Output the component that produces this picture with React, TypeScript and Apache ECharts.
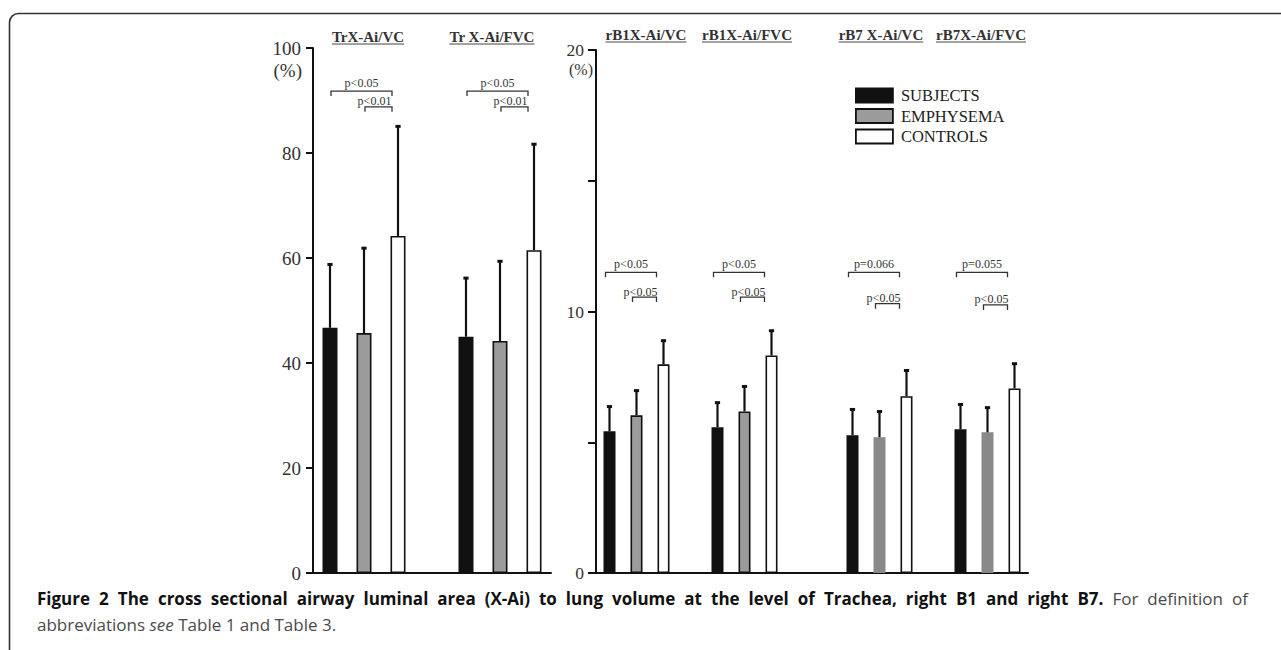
import React, { useEffect, useRef } from "react";
import * as echarts from "echarts";

// ---------- data ----------
const seriesNames = ["SUBJECTS", "EMPHYSEMA", "CONTROLS"];

const leftGroups = ["TrX-Ai/VC", "Tr X-Ai/FVC"];
const leftSubjects = [46.7, 45.0];
const leftSubjectsSD = [12.3, 11.4];
const leftEmphysema = [45.7, 44.2];
const leftEmphysemaSD = [16.4, 15.4];
const leftControls = [64.2, 61.5];
const leftControlsSD = [21.1, 20.4];

const rightGroups = ["rB1X-Ai/VC", "rB1X-Ai/FVC", "rB7 X-Ai/VC", "rB7X-Ai/FVC"];
const rightSubjects = [5.42, 5.57, 5.27, 5.5];
const rightSubjectsSD = [0.99, 0.99, 1.03, 0.99];
const rightEmphysema = [6.03, 6.18, 5.19, 5.38];
const rightEmphysemaSD = [0.99, 1.0, 1.03, 0.99];
const rightControls = [7.98, 8.32, 6.76, 7.06];
const rightControlsSD = [0.95, 0.99, 1.03, 0.99];

const leftTicks = { min: 0, max: 100, interval: 20 };
const rightTicks = { min: 0, max: 20, interval: 5, labelEvery: 10 };

// significance brackets: [group, fromSeries, toSeries, level, label]
const leftBrackets: [number, number, number, number, string][] = [
  [0, 0, 2, 91.8, "p<0.05"],
  [0, 1, 2, 88.8, "p<0.01"],
  [1, 0, 2, 91.8, "p<0.05"],
  [1, 1, 2, 88.8, "p<0.01"],
];
const rightBrackets: [number, number, number, number, string][] = [
  [0, 0, 2, 11.5, "p<0.05"],
  [0, 1, 2, 10.55, "p<0.05"],
  [1, 0, 2, 11.5, "p<0.05"],
  [1, 1, 2, 10.55, "p<0.05"],
  [2, 0, 2, 11.5, "p=0.066"],
  [2, 1, 2, 10.3, "p<0.05"],
  [3, 0, 2, 11.5, "p=0.055"],
  [3, 1, 2, 10.25, "p<0.05"],
];

const captionBold =
  "Figure 2 The cross sectional airway luminal area (X-Ai) to lung volume at the level of Trachea, right B1 and right B7.";
const captionRest1 = "For definition of";
const captionRest2a = "abbreviations ";
const captionItalic = "see";
const captionRest2b = " Table 1 and Table 3.";

// ---------- layout ----------
const SERIF = '"Liberation Serif", "Times New Roman", serif';
const SANS = '"Open Sans", "Noto Sans", sans-serif';
const LP = { left: 313, top: 48, width: 238, height: 525, slots: 7, barW: 15, groupSlots: [0, 4] };
const RP = { left: 596, top: 50, width: 432, height: 523, slots: 16, barW: 12, groupSlots: [0, 4, 9, 13] };
const leftTitleX = [368, 492];
const rightTitleX = [646, 747, 881, 981];
const GRAY = "#9b9b9b";
const GRAY_FLAT = "#898989";
const INK = "#111";
const CAP_SIZE = 17;
const CAP_LEFT = 37;
const CAP_RIGHT = 1248;

function measure(text: string, font: string): number {
  const c = document.createElement("canvas").getContext("2d");
  if (!c) return text.length * 8;
  c.font = font;
  return c.measureText(text).width;
}

function slotArray(values: number[], groupSlots: number[], offset: number, count: number, mapper?: (v: number, i: number) => any) {
  const arr: any[] = Array(count).fill(null);
  values.forEach((v, i) => {
    arr[groupSlots[i] + offset] = mapper ? mapper(v, i) : v;
  });
  return arr;
}

export default function App() {
  const ref = useRef<HTMLDivElement>(null);

  useEffect(() => {
    if (!ref.current) return;
    const chart = echarts.init(ref.current, undefined, { renderer: "svg" });

    const colors = [INK, GRAY, "#ffffff"];
    const barItem = (color: string) => ({ color, borderColor: INK, borderWidth: 1.6 });

    const leftMeans = [leftSubjects, leftEmphysema, leftControls];
    const leftSDs = [leftSubjectsSD, leftEmphysemaSD, leftControlsSD];
    const rightMeans = [rightSubjects, rightEmphysema, rightControls];
    const rightSDs = [rightSubjectsSD, rightEmphysemaSD, rightControlsSD];

    const series: any[] = [];
    seriesNames.forEach((name, s) => {
      series.push({
        name,
        type: "bar",
        xAxisIndex: 0,
        yAxisIndex: 0,
        barWidth: LP.barW,
        barGap: "-100%",
        itemStyle: barItem(colors[s]),
        data: slotArray(leftMeans[s], LP.groupSlots, s, LP.slots),
        z: 2,
      });
    });
    seriesNames.forEach((name, s) => {
      series.push({
        name,
        type: "bar",
        xAxisIndex: 1,
        yAxisIndex: 1,
        barWidth: RP.barW,
        barGap: "-100%",
        itemStyle: barItem(colors[s]),
        data: slotArray(rightMeans[s], RP.groupSlots, s, RP.slots, (v, i) =>
          s === 1 && i >= 2 ? { value: v, itemStyle: { color: GRAY_FLAT, borderWidth: 0 } } : v
        ),
        z: 2,
      });
    });

    const errData = (means: number[][], sds: number[][], groupSlots: number[]) => {
      const out: number[][] = [];
      means.forEach((m, s) =>
        m.forEach((v, g) => out.push([groupSlots[g] + s, v, v + sds[s][g]]))
      );
      return out;
    };
    const errRender = (params: any, api: any) => {
      const base = api.coord([api.value(0), api.value(1)]);
      const top = api.coord([api.value(0), api.value(2)]);
      return {
        type: "group",
        children: [
          { type: "line", shape: { x1: base[0], y1: base[1], x2: top[0], y2: top[1] + 1 }, style: { stroke: INK, lineWidth: 2.2 } },
          { type: "line", shape: { x1: top[0] - 2.6, y1: top[1] + 1.2, x2: top[0] + 2.6, y2: top[1] + 1.2 }, style: { stroke: INK, lineWidth: 3 } },
        ],
      };
    };
    series.push({
      type: "custom",
      xAxisIndex: 0,
      yAxisIndex: 0,
      data: errData(leftMeans, leftSDs, LP.groupSlots),
      encode: { x: 0, y: [1, 2] },
      renderItem: errRender,
      clip: false,
      z: 3,
      silent: true,
    });
    series.push({
      type: "custom",
      xAxisIndex: 1,
      yAxisIndex: 1,
      data: errData(rightMeans, rightSDs, RP.groupSlots),
      encode: { x: 0, y: [1, 2] },
      renderItem: errRender,
      clip: false,
      z: 3,
      silent: true,
    });

    const bracketRender = (list: any[], fromOff: number, toOff: number, fontSize: number) => (params: any, api: any) => {
      const b = list[params.dataIndex];
      const p1 = api.coord([api.value(0), api.value(2)]);
      const p2 = api.coord([api.value(1), api.value(2)]);
      const x1 = p1[0] + fromOff;
      const x2 = p2[0] + toOff;
      const y = p1[1];
      const upper = b[1] === 0;
      return {
        type: "group",
        children: [
          {
            type: "polyline",
            shape: { points: [[x1, y + 5], [x1, y], [x2, y], [x2, y + 5]] },
            style: { stroke: "#333", lineWidth: 1.3, fill: null },
          },
          {
            type: "text",
            style: {
              text: b[4],
              x: (x1 + x2) / 2 + (upper ? 0 : -4),
              y: y - (upper ? 8 : 5.5),
              align: "center",
              verticalAlign: "middle",
              font: `${fontSize}px ${SERIF}`,
              fill: "#333",
            },
          },
        ],
      };
    };
    const bracketData = (list: any[], groupSlots: number[]) =>
      list.map((b) => [groupSlots[b[0]] + b[1], groupSlots[b[0]] + b[2], b[3]]);
    series.push({
      type: "custom",
      xAxisIndex: 0,
      yAxisIndex: 0,
      data: bracketData(leftBrackets, LP.groupSlots),
      encode: { x: [0, 1], y: 2 },
      renderItem: bracketRender(leftBrackets, 1, -6, 12),
      clip: false,
      silent: true,
    });
    series.push({
      type: "custom",
      xAxisIndex: 1,
      yAxisIndex: 1,
      data: bracketData(rightBrackets, RP.groupSlots),
      encode: { x: [0, 1], y: 2 },
      renderItem: bracketRender(rightBrackets, -4, -7, 12),
      clip: false,
      silent: true,
    });

    const axisLine = { show: true, lineStyle: { color: INK, width: 2 } };
    const xAxisBase = (gridIndex: number, count: number) => ({
      type: "category",
      gridIndex,
      data: Array(count).fill(""),
      boundaryGap: true,
      axisLine,
      axisTick: { show: false },
      axisLabel: { show: false },
      splitLine: { show: false },
    });

    // titles + underlines
    const graphics: any[] = [];
    const titleFont = `bold 15px ${SERIF}`;
    const addTitle = (text: string, cx: number, cy: number) => {
      const w = measure(text, titleFont);
      graphics.push({
        type: "text",
        style: { text, x: cx, y: cy, align: "center", verticalAlign: "middle", font: titleFont, fill: "#333" },
      });
      graphics.push({
        type: "line",
        shape: { x1: cx - w / 2, y1: cy + 7, x2: cx + w / 2, y2: cy + 7 },
        style: { stroke: "#444", lineWidth: 1 },
      });
    };
    leftGroups.forEach((t, i) => addTitle(t, leftTitleX[i], 37));
    rightGroups.forEach((t, i) => addTitle(t, rightTitleX[i], 35));

    graphics.push({
      type: "text",
      style: { text: "(%)", x: 302, y: 70, align: "right", verticalAlign: "middle", font: `19px ${SERIF}`, fill: "#333" },
    });
    graphics.push({
      type: "text",
      style: { text: "(%)", x: 593, y: 69, align: "right", verticalAlign: "middle", font: `16px ${SERIF}`, fill: "#333" },
    });

    // frame
    graphics.push({
      type: "rect",
      shape: { x: 9.5, y: 13.5, width: 1400, height: 800, r: [9, 0, 0, 0] },
      style: { stroke: "#333", lineWidth: 1.6, fill: null },
      z: -1,
    });

    // caption: first line justified word by word
    const boldFont = `bold ${CAP_SIZE}px ${SANS}`;
    const normFont = `${CAP_SIZE}px ${SANS}`;
    const words: { t: string; bold: boolean }[] = [
      ...captionBold.split(" ").map((t) => ({ t, bold: true })),
      ...captionRest1.split(" ").map((t) => ({ t, bold: false })),
    ];
    const widths = words.map((w) => measure(w.t, w.bold ? boldFont : normFont));
    const total = widths.reduce((a, b) => a + b, 0);
    const gap = (CAP_RIGHT - CAP_LEFT - total) / (words.length - 1);
    let cx = CAP_LEFT;
    words.forEach((w, i) => {
      graphics.push({
        type: "text",
        style: {
          text: w.t,
          x: cx,
          y: 598.5,
          align: "left",
          verticalAlign: "middle",
          font: w.bold ? boldFont : normFont,
          fill: w.bold ? "#111" : "#4a4a4a",
        },
      });
      cx += widths[i] + gap;
    });
    graphics.push({
      type: "text",
      style: {
        x: CAP_LEFT,
        y: 624,
        verticalAlign: "middle",
        text: `{n|${captionRest2a}}{i|${captionItalic}}{n|${captionRest2b}}`,
        rich: {
          n: { fontFamily: SANS, fontSize: CAP_SIZE, fill: "#4a4a4a" },
          i: { fontFamily: SANS, fontStyle: "italic", fontSize: CAP_SIZE, fill: "#4a4a4a" },
        },
      },
    });

    chart.setOption({
      animation: false,
      backgroundColor: "#ffffff",
      grid: [
        { left: LP.left, top: LP.top, width: LP.width, height: LP.height },
        { left: RP.left, top: RP.top, width: RP.width, height: RP.height },
      ],
      legend: {
        data: seriesNames,
        orient: "vertical",
        left: 855,
        top: 87,
        padding: 0,
        icon: "rect",
        itemWidth: 37,
        itemHeight: 14,
        itemGap: 3.5,
        selectedMode: false,
        itemStyle: { borderColor: INK, borderWidth: 1.8 },
        textStyle: { fontFamily: SERIF, fontSize: 16.5, color: "#222", padding: [0, 0, 0, 3] },
      },
      xAxis: [xAxisBase(0, LP.slots), xAxisBase(1, RP.slots)],
      yAxis: [
        {
          type: "value",
          gridIndex: 0,
          min: leftTicks.min,
          max: leftTicks.max,
          interval: leftTicks.interval,
          axisLine,
          axisTick: { show: true, length: 7, lineStyle: { color: INK, width: 2 } },
          axisLabel: { fontFamily: SERIF, fontSize: 19, color: "#333", margin: 12 },
          splitLine: { show: false },
        },
        {
          type: "value",
          gridIndex: 1,
          min: rightTicks.min,
          max: rightTicks.max,
          interval: rightTicks.interval,
          axisLine,
          axisTick: { show: true, length: 8, lineStyle: { color: INK, width: 2 } },
          axisLabel: {
            fontFamily: SERIF,
            fontSize: 17.5,
            color: "#333",
            margin: 12,
            formatter: (v: number) => (v % rightTicks.labelEvery === 0 ? String(v) : ""),
          },
          splitLine: { show: false },
        },
      ],
      graphic: graphics,
      series,
    });

    return () => chart.dispose();
  }, []);

  return (
    <div
      ref={ref}
      style={{ position: "fixed", left: 0, top: 0, width: 1281, height: 650, background: "#fff" }}
    />
  );
}
